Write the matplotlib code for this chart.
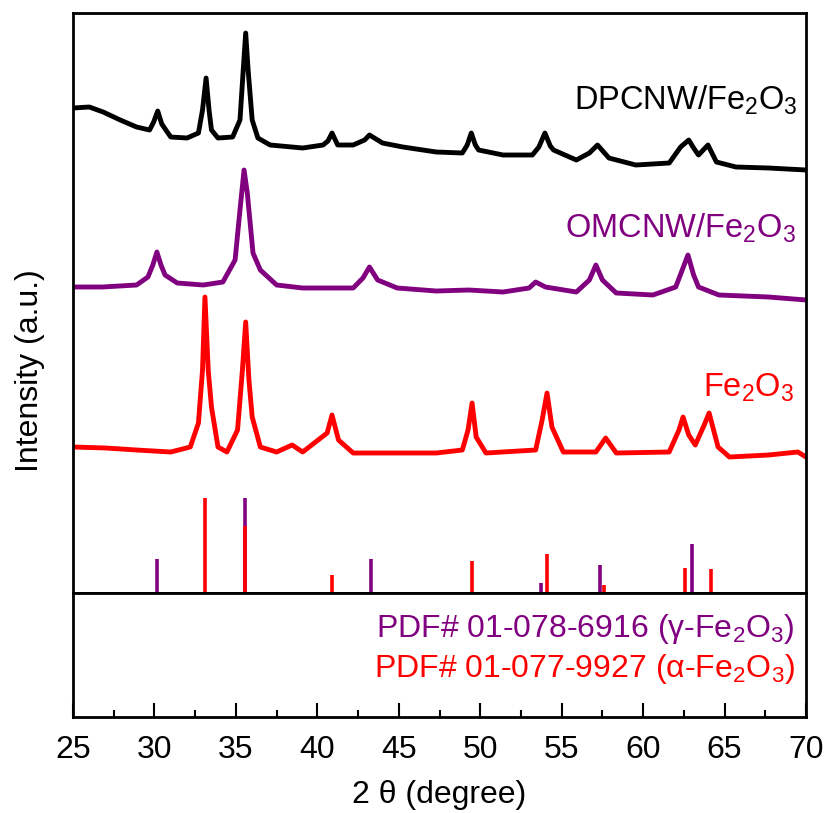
import matplotlib
matplotlib.use("Agg")
import matplotlib.pyplot as plt
from matplotlib.ticker import MultipleLocator

plt.rcParams['font.family'] = ['Liberation Sans', 'DejaVu Sans']
plt.rcParams['mathtext.fontset'] = 'custom'
plt.rcParams['mathtext.rm'] = 'Liberation Sans'
plt.rcParams['mathtext.default'] = 'regular'

PURPLE = '#800080'
RED = '#ff0000'

# DPCNW/Fe2O3 pattern (2theta, intensity a.u.)
dpcnw_x = [25.0, 26.0, 26.85, 27.9, 28.9, 29.7, 29.95, 30.2, 30.45, 30.7, 31.0, 32.0,
           32.7, 32.95, 33.17, 33.35, 33.5, 33.9, 34.8, 35.25, 35.45, 35.6, 35.75, 36.0,
           36.35, 37.1, 39.1, 40.35, 40.65, 40.9, 41.25, 42.2, 42.9, 43.2, 44.0, 45.25,
           47.3, 48.9, 49.2, 49.45, 49.7, 49.9, 51.4, 53.2, 53.6, 53.97, 54.3, 54.5,
           55.9, 56.7, 57.2, 57.9, 59.55, 61.6, 62.3, 62.8, 63.1, 63.4, 63.98, 64.5,
           65.7, 67.7, 70.0]
dpcnw_y = [485, 486, 481, 473, 466, 463, 471, 482, 469, 463, 456, 455,
           460, 483, 515, 483, 463, 455, 456, 473, 523, 560, 523, 473,
           455, 448, 445, 448, 452, 460, 448, 448, 453, 458, 450, 446,
           441, 440, 448, 460, 448, 443, 438, 438, 446, 460, 447, 443,
           433, 440, 448, 435, 428, 430, 446, 453, 445, 438, 448, 431,
           426, 425, 423]

# OMCNW/Fe2O3 pattern
omcnw_x = [25.0, 26.8, 28.9, 29.6, 29.9, 30.15, 30.4, 30.65, 31.4, 33.0, 34.2, 34.95,
           35.25, 35.5, 35.7, 36.05, 36.5, 37.5, 39.1, 42.2, 42.8, 43.2, 43.7, 44.9,
           47.3, 49.3, 51.4, 53.0, 53.4, 54.0, 55.9, 56.7, 57.1, 57.5, 58.35, 60.6,
           62.0, 62.4, 62.75, 63.1, 63.4, 64.65, 67.7, 70.0]
omcnw_y = [306, 306, 308, 316, 328, 341, 328, 318, 310, 308, 311, 333,
           383, 423, 400, 340, 323, 308, 305, 305, 315, 326, 313, 305,
           302, 303, 301, 305, 311, 306, 301, 313, 328, 313, 300, 298,
           306, 323, 338, 318, 306, 298, 296, 293]

# bare Fe2O3 pattern
fe2o3_x = [25.0, 27.0, 28.9, 31.0, 32.2, 32.7, 32.95, 33.1, 33.3, 33.5, 33.9, 34.45,
           35.1, 35.4, 35.6, 35.8, 36.0, 36.5, 37.5, 38.45, 39.1, 40.6, 40.9, 41.3,
           42.2, 45.25, 47.3, 48.9, 49.25, 49.5, 49.75, 50.35, 53.4, 53.8, 54.1, 54.4,
           55.1, 57.1, 57.7, 58.35, 61.6, 62.2, 62.45, 62.8, 63.2, 63.75, 64.05, 64.6,
           65.3, 67.7, 69.5, 70.0]
fe2o3_y = [146, 145, 143, 141, 146, 170, 223, 296, 223, 186, 146, 141,
           163, 223, 271, 213, 176, 146, 141, 148, 141, 160, 178, 153,
           140, 140, 140, 143, 163, 190, 156, 140, 143, 173, 200, 166,
           141, 141, 155, 140, 141, 163, 176, 158, 148, 168, 180, 146,
           136, 138, 141, 136]

# reference cards: gamma-Fe2O3 (01-078-6916) and alpha-Fe2O3 (01-077-9927)
gamma_pos = [30.17, 35.58, 43.3, 53.73, 57.35, 62.97]
gamma_int = [34, 95, 34, 10, 28, 49]
alpha_pos = [33.1, 35.58, 40.88, 49.5, 54.12, 57.62, 62.55, 64.14]
alpha_int = [95, 67, 18, 32, 39, 8, 25, 24]

fig = plt.figure(figsize=(8.25, 8.13), dpi=100)
ax = fig.add_axes([0.0885, 0.2706, 0.8885, 0.7134])
ax2 = fig.add_axes([0.0885, 0.1181, 0.8885, 0.1525], sharex=ax)

ax.plot(dpcnw_x, dpcnw_y, color='black', lw=3.5)
ax.plot(omcnw_x, omcnw_y, color=PURPLE, lw=3.5)
ax.plot(fe2o3_x, fe2o3_y, color=RED, lw=3.5)
ax.vlines(gamma_pos, 0, gamma_int, color=PURPLE, lw=2.6)
ax.vlines(alpha_pos, 0, alpha_int, color=RED, lw=2.6)

ax.text(69.5, 483, 'DPCNW/Fe$_2$O$_3$', color='black', fontsize=23.5, ha='right', va='baseline')
ax.text(69.4, 355, 'OMCNW/Fe$_2$O$_3$', color=PURPLE, fontsize=23.5, ha='right', va='baseline')
ax.text(69.3, 196, 'Fe$_2$O$_3$', color=RED, fontsize=23.5, ha='right', va='baseline')

ax.set_xlim(25, 70)
ax.set_ylim(0, 580)
ax.set_yticks([])
ax.tick_params(axis='x', bottom=False, labelbottom=False)

ax2.set_ylim(0, 1)
ax2.set_yticks([])
ax2.text(69.3, 0.645, 'PDF# 01-078-6916 ($\\gamma$-Fe$_2$O$_3$)', color=PURPLE,
         fontsize=23, ha='right', va='baseline')
ax2.text(69.3, 0.32, 'PDF# 01-077-9927 ($\\alpha$-Fe$_2$O$_3$)', color=RED,
         fontsize=23, ha='right', va='baseline')
ax2.xaxis.set_major_locator(MultipleLocator(5))
ax2.xaxis.set_minor_locator(MultipleLocator(2.5))
ax2.tick_params(axis='x', which='major', direction='in', length=10, width=1.5,
                labelsize=23, pad=13)
ax2.tick_params(axis='x', which='minor', direction='in', length=5, width=1.5)
ax2.set_xlabel('2 θ (degree)', fontsize=23, labelpad=11)

for a in (ax, ax2):
    for s in a.spines.values():
        s.set_linewidth(2)

fig.text(0.036, 1 - 371 / 813, 'Intensity (a.u.)', rotation=90, fontsize=23,
         ha='center', va='center')

fig.savefig('out.png', dpi=100)
